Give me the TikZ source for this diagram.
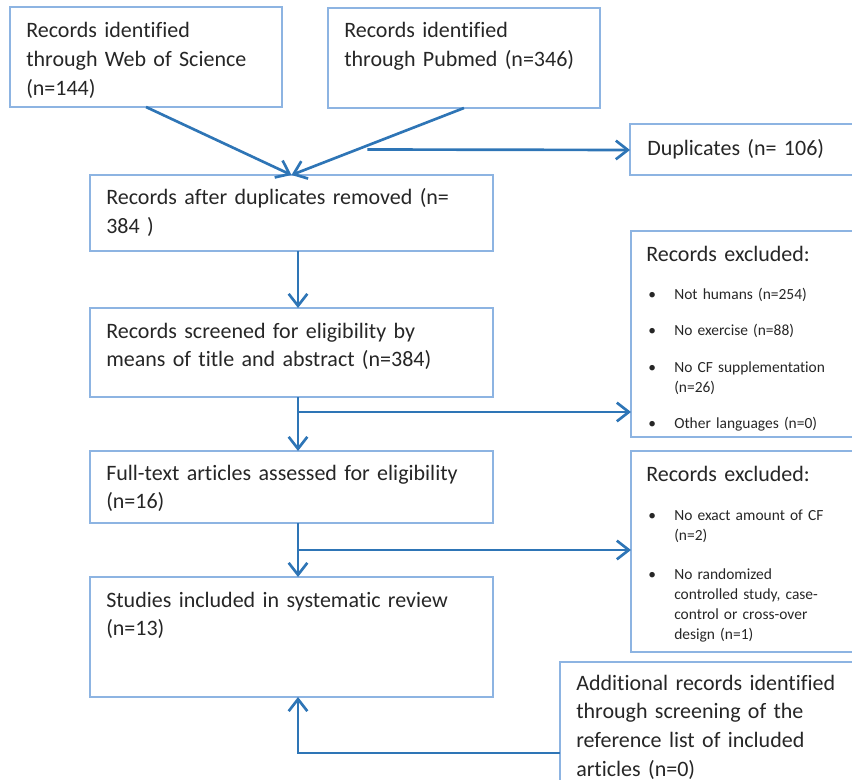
\documentclass[tikz,border=0pt]{standalone}
\usepackage{fontspec}
\setmainfont[Ligatures=NoCommon]{Carlito}
\usetikzlibrary{arrows.meta,calc,fit}
\definecolor{boxc}{RGB}{141,180,226}
\definecolor{arrc}{RGB}{46,117,182}
\begin{document}
\begin{tikzpicture}[x=0.75pt,y=-0.75pt,
  box/.style={draw=boxc,line width=1.1pt,inner sep=0pt,outer sep=0pt,rectangle},
  conn/.style={draw=arrc,line width=2pt},
  arr/.style={conn,-{Straight Barb[length=9pt,width=14pt,line width=2pt]}},
  txt/.style={anchor=base west,inner sep=0pt,align=left,text width=320pt,
    font=\fontsize{16.5}{21.5}\selectfont,text=black!85},
  small/.style={anchor=base west,inner sep=0pt,align=left,text width=150pt,
    font=\fontsize{11.6}{15}\selectfont,text=black!85},
  bul/.style={anchor=base west,inner sep=0pt,font=\fontsize{11.6}{15}\selectfont,text=black!85}]
\useasboundingbox (0,0) rectangle (852,780);
\clip (0,0) rectangle (852,780);

% boxes
\node[box,fit={(10,7) (282,107)}] (A) {};
\node[box,fit={(328,8) (600,108)}] (B) {};
\node[box,fit={(630,124) (870,175)}] (Dup) {};
\node[box,fit={(90,175) (493,251)}] (C) {};
\node[box,fit={(90,308) (493,397)}] (D) {};
\node[box,fit={(631,231) (870,437)}] (X1) {};
\node[box,fit={(90,451) (493,523)}] (E) {};
\node[box,fit={(631,451) (870,652)}] (X2) {};
\node[box,fit={(90,577) (493,697)}] (F) {};
\node[box,fit={(560,662) (870,800)}] (Add) {};

% texts
\node[txt] (tA) at (26,38) {Records identified\\through Web of Science\\(n=144)};
\node[txt] (tB) at (344,38) {Records identified\\through Pubmed (n=346)};
\node[txt] (tDup) at (647,156) {Duplicates (n= 106)};
\node[txt] (tC) at (106,205) {Records after duplicates removed (n=\\384 )};
\node[txt] (tD) at (106,338) {Records screened for eligibility by\\means of title and abstract (n=384)};
\node[txt] (tE) at (106,480) {Full-text articles assessed for eligibility\\(n=16)};
\node[txt] (tF) at (106,607) {Studies included in systematic review\\(n=13)};
\node[txt] (tAdd) at (576,690) {Additional records identified\\through screening of the\\reference list of included\\articles (n=0)};

\node[txt] (tX1) at (646,262) {Records excluded:};
\node[bul] (b11) at (648,300) {•};
\node[small] (i11) at (674,300) {Not humans (n=254)};
\node[bul] (b12) at (648,335) {•};
\node[small] (i12) at (674,335) {No exercise (n=88)};
\node[bul] (b13) at (648,372) {•};
\node[small] (i13) at (674,372) {No CF supplementation\\(n=26)};
\node[bul] (b14) at (648,428) {•};
\node[small] (i14) at (674,428) {Other languages (n=0)};

\node[txt] (tX2) at (646,481) {Records excluded:};
\node[bul] (b21) at (648,520) {•};
\node[small] (i21) at (674,520) {No exact amount of CF\\(n=2)};
\node[bul] (b22) at (648,579) {•};
\node[small] (i22) at (674,579) {No randomized\\controlled study, case-\\control or cross-over\\design (n=1)};

% connectors
\coordinate (s) at (298,0);
\draw[arr] (A.south) -- (C.north);
\draw[arr] (B.south) -- (C.north);
\coordinate (p) at ($(B.south)!0.56!(C.north)$);
\draw[arr] (Dup.west -| p) -- (Dup.west |- 0,150);
\draw[arr] (C.south -| s) -- (D.north -| s);
\draw[arr] (D.south -| s) -- (E.north -| s);
\coordinate (j1) at (298,412);
\draw[arr] (j1) -- (j1 -| X1.west);
\draw[arr] (E.south -| s) -- (F.north -| s);
\coordinate (j2) at (298,550);
\draw[arr] (j2) -- (j2 -| X2.west);
\coordinate (q) at (560,753);
\draw[arr] (q) -- (q -| s) -- (F.south -| s);
\end{tikzpicture}
\end{document}
